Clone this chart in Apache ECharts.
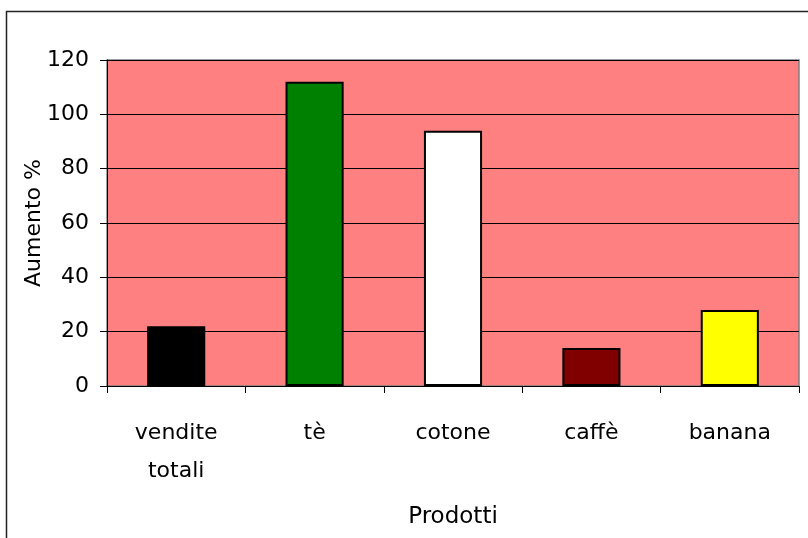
<!DOCTYPE html>
<html><head><meta charset="utf-8">
<script src="https://cdn.jsdelivr.net/npm/echarts@6/dist/echarts.min.js"></script>
<style>html,body{margin:0;padding:0;background:#fff}#c{width:808px;height:538px}</style>
</head><body><div id="c"></div>
<script>
const categories = ['vendite\ntotali', 'tè', 'cotone', 'caffè', 'banana'];
const values = [22, 112, 94, 14, 28];
const barColors = ['#000000', '#008000', '#ffffff', '#800000', '#ffff00'];
const yTicks = [0, 20, 40, 60, 80, 100, 120];
const FONT = '"Comic Sans MS", "DejaVu Sans", sans-serif';
const chart = echarts.init(document.getElementById('c'), null, {renderer: 'canvas'});
chart.setOption({
  animation: false,
  backgroundColor: '#ffffff',
  graphic: [{type: 'rect', shape: {x: 6.5, y: 11.5, width: 900, height: 600}, style: {fill: 'none', stroke: '#222', lineWidth: 1.5}, z: -1}],
  grid: {left: 107, top: 60, right: 9, bottom: 152, show: true, backgroundColor: '#ff8080', borderColor: '#808080', borderWidth: 1.5},
  xAxis: {
    type: 'category', data: categories,
    name: 'Prodotti', nameLocation: 'middle', nameGap: 120, nameMoveOverlap: false,
    nameTextStyle: {fontFamily: FONT, fontSize: 23, color: '#000'},
    axisLine: {lineStyle: {color: '#000', width: 1}},
    axisTick: {show: true, inside: false, length: 7, interval: 0, lineStyle: {color: '#000'}},
    axisLabel: {fontFamily: FONT, fontSize: 22, color: '#000', margin: 28, lineHeight: 38, interval: 0, verticalAlign: 'top'}
  },
  yAxis: {
    type: 'value', min: yTicks[0], max: yTicks[yTicks.length - 1], interval: 20,
    name: 'Aumento %', nameLocation: 'middle', nameGap: 62, nameRotate: 90, nameMoveOverlap: false,
    nameTextStyle: {fontFamily: FONT, fontSize: 22, color: '#000'},
    axisLine: {show: true, lineStyle: {color: '#000', width: 1}},
    axisTick: {show: true, inside: false, length: 7, lineStyle: {color: '#000'}},
    axisLabel: {fontFamily: FONT, fontSize: 22, color: '#000', margin: 18},
    splitLine: {show: true, lineStyle: {color: '#000', width: 1}}
  },
  series: [{
    type: 'bar', barWidth: '42%',
    data: values.map((v, i) => ({value: v, itemStyle: {color: barColors[i]}})),
    itemStyle: {borderColor: '#000', borderWidth: 2}
  }]
});
</script></body></html>
